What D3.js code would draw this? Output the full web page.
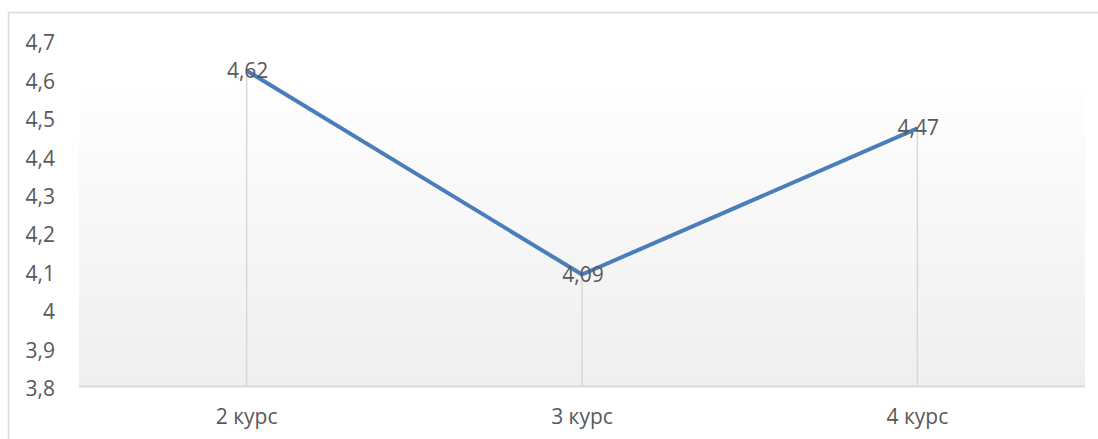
<!DOCTYPE html>
<html>
<head>
<meta charset="utf-8">
<script src="https://cdn.jsdelivr.net/npm/d3@7"></script>
<style>
  html, body { margin: 0; padding: 0; background: #fff; }
  svg { display: block; }
  text { font-family: "Open Sans", sans-serif; fill: #595959; }
</style>
</head>
<body>
<svg id="chart" width="1098" height="439"></svg>
<script>
const categories = ["2 курс", "3 курс", "4 курс"];
const values = [4.62, 4.09, 4.47];
const yTicks = [3.8, 3.9, 4.0, 4.1, 4.2, 4.3, 4.4, 4.5, 4.6, 4.7];
const fmt = v => String(+v.toFixed(2)).replace(".", ",");

const svg = d3.select("#chart");
const FS = "21px";

// chart border
svg.append("rect").attr("x", 8.5).attr("y", 12.5).attr("width", 1200).attr("height", 500)
  .attr("fill", "#fff").attr("stroke", "#d9d9d9").attr("stroke-width", 1.5);

const pLeft = 79, pRight = 1085, pTop = 40, pBottom = 386;
const x = d3.scaleBand().domain(categories).range([pLeft, pRight]).padding(0);
const y = d3.scaleLinear().domain([3.8, 4.7]).range([pBottom, pTop]);

// gradient plot background
const defs = svg.append("defs");
const grad = defs.append("linearGradient").attr("id", "bg").attr("x1", 0).attr("y1", 0).attr("x2", 0).attr("y2", 1);
grad.append("stop").attr("offset", "0%").attr("stop-color", "#fefefe");
grad.append("stop").attr("offset", "100%").attr("stop-color", "#efefef");
svg.append("rect").attr("x", pLeft).attr("y", 85).attr("width", pRight - pLeft).attr("height", pBottom - 85)
  .attr("fill", "url(#bg)");

// drop lines
svg.append("g").selectAll("line").data(values).join("line")
  .attr("x1", (d, i) => x(categories[i]) + x.bandwidth() / 2)
  .attr("x2", (d, i) => x(categories[i]) + x.bandwidth() / 2)
  .attr("y1", d => y(d)).attr("y2", pBottom)
  .attr("stroke", "#d9d9d9").attr("stroke-width", 1.5);

// x axis line
svg.append("line").attr("x1", pLeft).attr("x2", pRight).attr("y1", pBottom + 0.5).attr("y2", pBottom + 0.5)
  .attr("stroke", "#d9d9d9").attr("stroke-width", 2);

// y axis labels
const yAxis = d3.axisLeft(y).tickValues(yTicks).tickFormat(fmt).tickSize(0).tickPadding(0);
const gy = svg.append("g").attr("transform", "translate(55,3)").call(yAxis);
gy.select(".domain").remove();
gy.selectAll("text").style("font-size", FS).style("fill", "#595959").style("font-family", "'Open Sans', sans-serif");

// x axis labels
const xAxis = d3.axisBottom(x).tickSize(0).tickPadding(0);
const gx = svg.append("g").attr("transform", `translate(0,${pBottom + 23})`).call(xAxis);
gx.select(".domain").remove();
gx.selectAll("text").style("font-size", FS).style("fill", "#595959").style("font-family", "'Open Sans', sans-serif");

// line
const line = d3.line().x((d, i) => x(categories[i]) + x.bandwidth() / 2).y(d => y(d));
svg.append("path").datum(values).attr("d", line).attr("fill", "none")
  .attr("stroke", "#4a7ebb").attr("stroke-width", 4).attr("stroke-linejoin", "round");

// data labels
svg.append("g").selectAll("text").data(values).join("text")
  .attr("x", (d, i) => x(categories[i]) + x.bandwidth() / 2 + 1)
  .attr("y", d => y(d) + 7)
  .attr("text-anchor", "middle")
  .style("font-size", FS)
  .text(fmt);
</script>
</body>
</html>
